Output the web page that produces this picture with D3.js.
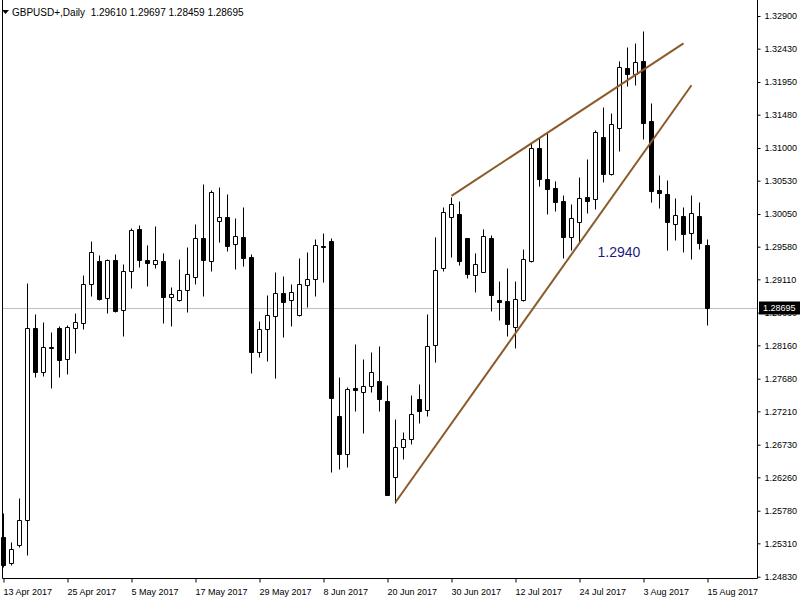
<!DOCTYPE html>
<html><head><meta charset="utf-8">
<script src="https://cdn.jsdelivr.net/npm/d3@7"></script>
<style>
html,body{margin:0;padding:0;background:#fff;}
svg{display:block;font-family:"Liberation Sans",Arial,sans-serif;}
</style></head>
<body><svg id="c" width="800" height="600"></svg>
<script>
// ---- data ----
const symbolTitle = "GBPUSD+,Daily";
const lastBar = [1.29610, 1.29697, 1.28459, 1.28695];
const startDate = "2017-04-13", endDate = "2017-08-15";
const openP = [1.25406,1.25031,1.25286,1.25646,1.28405,1.27772,1.28132,1.28409,1.27959,1.28405,
1.28477,1.29038,1.29374,1.28837,1.29388,1.28664,1.29226,1.29834,1.29388,1.29326,
1.29374,1.28851,1.28817,1.28952,1.29148,1.29700,1.29369,1.29954,1.30003,1.29614,
1.29715,1.29427,1.28060,1.28391,1.28578,1.28913,1.28808,1.28597,1.29024,1.29110,
1.29590,1.29662,1.27143,1.26592,1.27541,1.27484,1.27575,1.27642,1.27354,1.26269,
1.26701,1.26805,1.27383,1.27229,1.28160,1.29269,1.30003,1.30046,1.29705,1.29172,
1.29220,1.29705,1.28808,1.28794,1.28419,1.28812,1.29378,1.30996,1.30554,1.30420,
1.30237,1.29723,1.29939,1.30295,1.30262,1.31158,1.30626,1.31284,1.32147,1.32061,
1.32252,1.31389,1.30396,1.30338,1.29902,1.30021,1.29772,1.30021,1.29610];
const highP = [1.25742,1.25334,1.25967,1.29061,1.28611,1.28491,1.28356,1.28438,1.28453,1.28625,
1.29172,1.29662,1.29460,1.29403,1.29475,1.29331,1.29849,1.29892,1.29604,1.29878,
1.29489,1.29000,1.29403,1.29575,1.29906,1.30482,1.30396,1.30439,1.30338,1.29993,
1.30151,1.29475,1.28510,1.28884,1.29215,1.29158,1.29047,1.29417,1.29503,1.29690,
1.29772,1.29700,1.27708,1.27556,1.28179,1.27963,1.28064,1.28150,1.27589,1.27095,
1.26917,1.27445,1.27603,1.28607,1.29723,1.30147,1.30299,1.30242,1.29710,1.29485,
1.29834,1.29744,1.29086,1.29273,1.29082,1.29542,1.31072,1.31140,1.31216,1.30525,
1.30328,1.30194,1.30583,1.30842,1.31259,1.31586,1.31508,1.32248,1.32454,1.32507,
1.32684,1.31644,1.30607,1.30540,1.30276,1.30147,1.30324,1.30219,1.29697];
const lowP = [1.24970,1.24998,1.25253,1.25142,1.27700,1.27723,1.27550,1.27708,1.27743,1.28045,
1.28395,1.28874,1.28812,1.28630,1.28644,1.28299,1.28989,1.29292,1.29018,1.29277,
1.28486,1.28443,1.28802,1.28644,1.29043,1.28874,1.29234,1.29652,1.29522,1.29263,
1.29306,1.27757,1.27996,1.27939,1.27685,1.28284,1.28443,1.28582,1.28716,1.28874,
1.29076,1.26341,1.26376,1.26413,1.27219,1.26894,1.27493,1.27219,1.25999,1.25895,
1.26531,1.26740,1.27046,1.27143,1.27924,1.29234,1.29436,1.29312,1.29125,1.28932,
1.29211,1.28658,1.28525,1.28299,1.28117,1.28802,1.29364,1.30458,1.30046,1.30098,
1.29413,1.29532,1.29652,1.30069,1.30118,1.30506,1.30612,1.30961,1.31897,1.31907,
1.31127,1.30227,1.30132,1.29525,1.29680,1.29508,1.29398,1.29551,1.28459];
const closeP = [1.24998,1.25224,1.25646,1.28405,1.27772,1.28132,1.28128,1.27949,1.28424,1.28496,
1.29038,1.29499,1.28827,1.29388,1.28658,1.29226,1.29820,1.29392,1.29349,1.29384,
1.28860,1.28894,1.28952,1.29182,1.29700,1.29384,1.30363,1.30003,1.29594,1.29729,
1.29421,1.28068,1.28391,1.28592,1.28909,1.28788,1.28928,1.29038,1.29110,1.29600,
1.29571,1.27406,1.26592,1.27527,1.27521,1.27575,1.27772,1.27383,1.26006,1.26701,
1.26819,1.27167,1.27219,1.28146,1.29240,1.30075,1.30198,1.29378,1.29191,1.29326,
1.29729,1.28880,1.28788,1.28471,1.28822,1.29398,1.30996,1.30550,1.30406,1.30227,
1.29723,1.29988,1.30276,1.30242,1.31226,1.30630,1.31341,1.32162,1.32061,1.32234,
1.31367,1.30386,1.30348,1.29931,1.30036,1.29758,1.30065,1.29637,1.28695];
const priceTicks = [1.32900,1.32430,1.31950,1.31480,1.31000,1.30530,1.30050,1.29580,1.29110,
1.28630,1.28160,1.27680,1.27210,1.26730,1.26260,1.25780,1.25310,1.24830];
const dateTicks = ["2017-04-13","2017-04-25","2017-05-05","2017-05-17","2017-05-29","2017-06-08",
"2017-06-20","2017-06-30","2017-07-12","2017-07-24","2017-08-03","2017-08-15"];
const trendLines = [
  [["2017-06-30",1.30311],["2017-08-10",1.32507]],
  [["2017-06-21",1.25901],["2017-08-11",1.31903]]
];
const noteText = "1.2940", noteDate = "2017-07-26", notePrice = 1.2943;
const currentPrice = 1.28695;

// ---- build ----
const parse = d3.utcParse("%Y-%m-%d"), fmtKey = d3.utcFormat("%Y-%m-%d");
const dates = d3.utcDays(parse(startDate), d3.utcDay.offset(parse(endDate),1))
  .filter(d => d.getUTCDay()!==0 && d.getUTCDay()!==6).map(fmtKey);
const bars = dates.map((d,i)=>({d, o:openP[i], h:highP[i], l:lowP[i], c:closeP[i]}));

const svg = d3.select("#c");
const plotR = 757, plotB = 578;
const x = d3.scalePoint().domain(dates).range([3.5, 3.5 + 8*(dates.length-1)]);
const y = d3.scaleLinear().domain([1.24830, 1.32900]).range([576.7, 16]);
const ry = v => Math.round(y(v)) + 0.5;

// current price line
svg.append("line").attr("x1",2).attr("x2",plotR).attr("y1",Math.round(y(currentPrice))+0.5)
  .attr("y2",Math.round(y(currentPrice))+0.5).attr("stroke","#c0c0c0").attr("stroke-width",1);

// candles
const g = svg.append("g");
bars.forEach(b=>{
  const cx = x(b.d);
  g.append("line").attr("x1",cx).attr("x2",cx).attr("y1",ry(b.h)).attr("y2",ry(b.l))
    .attr("stroke","#000").attr("stroke-width",1);
  const top = ry(Math.max(b.o,b.c)), bot = ry(Math.min(b.o,b.c));
  const bull = b.c > b.o;
  g.append("path").attr("d",`M${cx-2},${top}H${cx+2}V${bot}H${cx-2}Z`)
    .attr("fill", bull ? "#fff" : "#000").attr("stroke","#000").attr("stroke-width",1);
});

// trend lines
trendLines.forEach(t=>{
  svg.append("line").attr("x1",x(t[0][0])).attr("y1",y(t[0][1]))
    .attr("x2",x(t[1][0])).attr("y2",y(t[1][1]))
    .attr("stroke","#8b5a2b").attr("stroke-width",2);
});

// note
svg.append("text").attr("x",x(noteDate)+2).attr("y",y(notePrice)).attr("font-size",14)
  .attr("fill","#1c1c7c").text(noteText);

// frame
svg.append("path").attr("d",`M2.5,0V${plotB+0.5}H${plotR+0.5}V0`).attr("fill","none")
  .attr("stroke","#000").attr("stroke-width",1);

// right axis
const ya = d3.axisRight(y).tickValues(priceTicks).tickSize(3).tickPadding(4)
  .tickFormat(d3.format(".5f"));
const yg = svg.append("g").attr("transform",`translate(${plotR+0.5},0)`).call(ya);
yg.select(".domain").remove();
yg.selectAll("text").attr("font-size",9).attr("font-family","Liberation Sans, Arial").attr("fill","#000");
yg.selectAll("line").attr("stroke","#000");
yg.attr("font-family",null);

// bottom axis
const xa = d3.axisBottom(x).tickValues(dateTicks).tickSize(4).tickPadding(6)
  .tickFormat(d=>d3.utcFormat("%-d %b %Y")(parse(d)));
const xg = svg.append("g").attr("transform",`translate(0,${plotB+0.5})`).call(xa);
xg.select(".domain").remove();
xg.selectAll("text").attr("font-size",9).attr("text-anchor","start").attr("dx",-0.5)
  .attr("font-family","Liberation Sans, Arial").attr("fill","#000");
xg.selectAll("line").attr("stroke","#000");

// current price label
const cy = Math.round(y(currentPrice));
svg.append("rect").attr("x",759).attr("y",cy-6.5).attr("width",41).attr("height",13).attr("fill","#000");
svg.append("text").attr("x",763).attr("y",cy).attr("dy","0.35em").attr("font-size",9)
  .attr("fill","#fff").text(d3.format(".5f")(currentPrice));

// title
svg.append("path").attr("d","M2,10H9L5.5,14Z").attr("fill","#000");
svg.append("text").attr("x",12).attr("y",16).attr("font-size",10).attr("fill","#000")
  .attr("xml:space","preserve")
  .text(symbolTitle + "  " + lastBar.map(d3.format(".5f")).join(" "));
</script></body></html>
